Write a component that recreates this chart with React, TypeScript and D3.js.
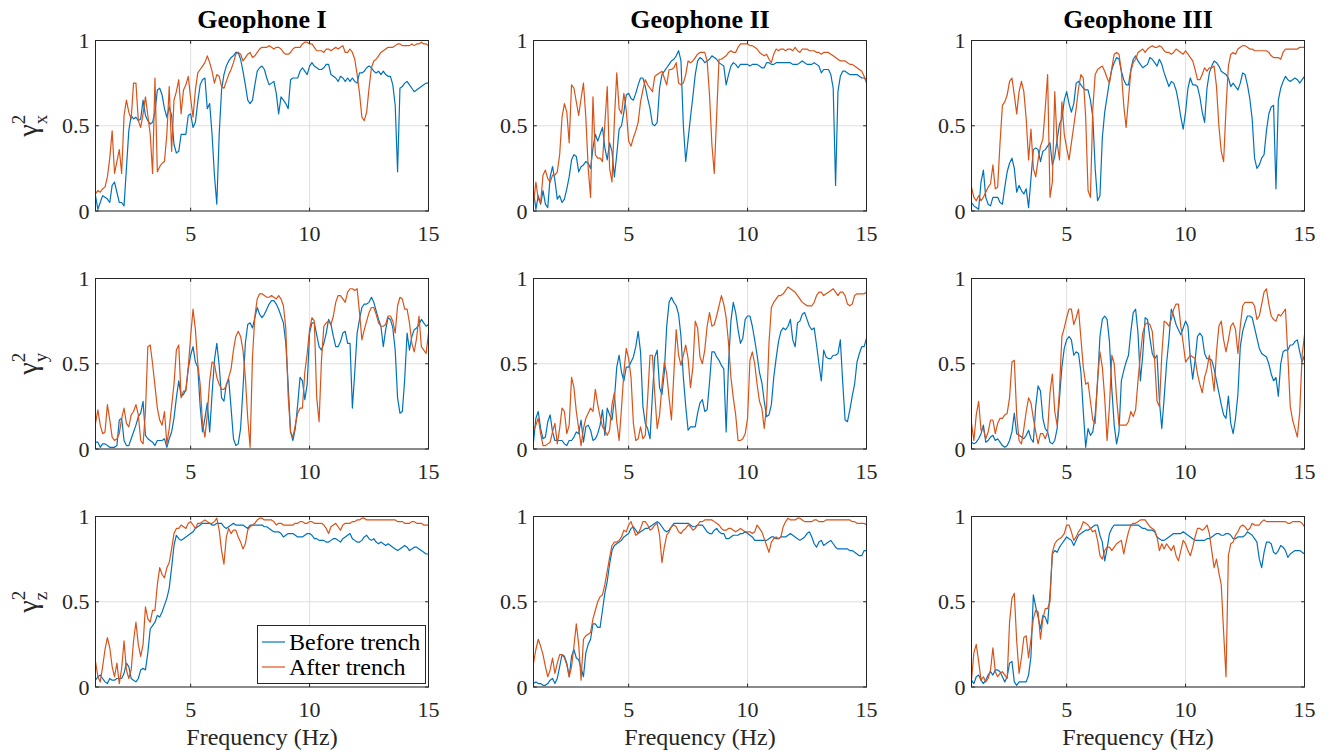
import React from "react";
import * as d3 from "d3";

// Frequency grid: 1 Hz to 15 Hz in 0.1 Hz steps (141 samples per curve)
const FREQ_START = 1;
const FREQ_STEP = 0.1;

const geophones = ["Geophone I", "Geophone II", "Geophone III"];
const components = ["x", "y", "z"];
const seriesNames = ["Before trench", "After trench"];
const xTicks = [5, 10, 15];
const yTicks = [0, 0.5, 1];
const yTickLabels = ["0", "0.5", "1"];

// ---- Coherence, x component ----
const xBeforeI = [
  0.09,0.01,0.05,0.09,0.08,0.07,0.05,0.15,0.17,0.11,
  0.05,0.05,0.03,0.25,0.47,0.56,0.54,0.55,0.53,0.54,
  0.65,0.56,0.53,0.51,0.52,0.58,0.71,0.72,0.68,0.60,
  0.55,0.61,0.56,0.39,0.34,0.35,0.45,0.45,0.45,0.56,
  0.57,0.49,0.52,0.64,0.74,0.77,0.78,0.60,0.63,0.45,
  0.21,0.04,0.45,0.71,0.80,0.85,0.88,0.90,0.91,0.93,
  0.93,0.89,0.82,0.74,0.65,0.63,0.65,0.74,0.82,0.84,
  0.85,0.83,0.78,0.74,0.75,0.76,0.69,0.57,0.67,0.65,
  0.63,0.60,0.77,0.78,0.78,0.78,0.82,0.84,0.82,0.80,
  0.85,0.87,0.85,0.84,0.83,0.83,0.84,0.86,0.86,0.80,
  0.79,0.78,0.76,0.79,0.78,0.76,0.78,0.76,0.78,0.76,
  0.75,0.81,0.81,0.82,0.84,0.85,0.84,0.82,0.81,0.82,
  0.80,0.82,0.80,0.79,0.79,0.74,0.62,0.23,0.72,0.73,
  0.75,0.76,0.74,0.72,0.70,0.71,0.72,0.73,0.74,0.75,
  0.75,
];
const xAfterI = [
  0.10,0.12,0.11,0.13,0.14,0.20,0.31,0.47,0.22,0.29,
  0.36,0.22,0.56,0.65,0.58,0.54,0.75,0.75,0.53,0.49,
  0.57,0.67,0.56,0.45,0.22,0.78,0.23,0.26,0.28,0.29,
  0.45,0.73,0.35,0.65,0.70,0.77,0.57,0.71,0.74,0.79,
  0.66,0.55,0.71,0.81,0.83,0.85,0.87,0.91,0.87,0.82,
  0.75,0.80,0.79,0.73,0.72,0.76,0.80,0.83,0.87,0.92,
  0.93,0.92,0.88,0.90,0.92,0.93,0.90,0.91,0.93,0.95,
  0.96,0.96,0.96,0.97,0.96,0.95,0.96,0.96,0.95,0.93,
  0.92,0.92,0.93,0.95,0.96,0.96,0.96,0.98,0.99,0.99,
  0.98,0.98,0.96,0.94,0.94,0.94,0.93,0.95,0.95,0.94,
  0.95,0.96,0.95,0.96,0.97,0.93,0.93,0.95,0.93,0.89,
  0.80,0.69,0.55,0.53,0.58,0.72,0.84,0.88,0.89,0.91,
  0.93,0.94,0.95,0.96,0.96,0.96,0.97,0.98,0.98,0.97,
  0.97,0.97,0.97,0.98,0.97,0.98,0.98,0.99,0.98,0.98,
  0.97,
];
const xBeforeII = [
  0.12,0.01,0.09,0.04,0.12,0.04,0.02,0.20,0.26,0.18,
  0.07,0.09,0.05,0.07,0.13,0.20,0.30,0.33,0.32,0.23,
  0.26,0.27,0.29,0.28,0.25,0.37,0.45,0.41,0.45,0.49,
  0.37,0.30,0.40,0.35,0.20,0.33,0.48,0.50,0.58,0.68,
  0.69,0.66,0.65,0.69,0.74,0.78,0.78,0.73,0.66,0.60,
  0.51,0.50,0.52,0.72,0.80,0.82,0.84,0.86,0.88,0.89,
  0.91,0.94,0.88,0.50,0.29,0.42,0.55,0.67,0.80,0.88,
  0.90,0.89,0.87,0.88,0.89,0.91,0.90,0.89,0.87,0.86,
  0.85,0.74,0.80,0.85,0.87,0.86,0.84,0.86,0.86,0.86,
  0.86,0.85,0.86,0.86,0.86,0.85,0.84,0.84,0.87,0.87,
  0.86,0.86,0.87,0.87,0.87,0.87,0.87,0.87,0.87,0.86,
  0.86,0.86,0.87,0.88,0.87,0.86,0.86,0.86,0.87,0.86,
  0.85,0.81,0.83,0.83,0.83,0.80,0.72,0.15,0.70,0.79,
  0.82,0.82,0.81,0.80,0.80,0.80,0.80,0.79,0.78,0.78,
  0.77,
];
const xAfterII = [
  0.04,0.17,0.07,0.05,0.21,0.24,0.19,0.17,0.21,0.21,
  0.23,0.33,0.55,0.63,0.58,0.40,0.74,0.72,0.64,0.56,
  0.66,0.75,0.55,0.25,0.08,0.67,0.33,0.31,0.31,0.29,
  0.51,0.73,0.25,0.17,0.53,0.81,0.60,0.57,0.69,0.59,
  0.41,0.38,0.43,0.47,0.52,0.64,0.71,0.77,0.74,0.72,
  0.70,0.79,0.80,0.81,0.82,0.78,0.74,0.83,0.83,0.84,
  0.87,0.75,0.74,0.75,0.80,0.88,0.87,0.88,0.90,0.92,
  0.93,0.93,0.93,0.88,0.68,0.39,0.22,0.56,0.89,0.89,
  0.90,0.91,0.93,0.94,0.93,0.93,0.96,0.98,0.98,0.98,
  0.98,0.97,0.97,0.96,0.95,0.93,0.92,0.91,0.92,0.89,
  0.87,0.92,0.95,0.94,0.95,0.95,0.94,0.95,0.95,0.94,
  0.96,0.94,0.93,0.95,0.95,0.95,0.94,0.94,0.94,0.93,
  0.93,0.92,0.93,0.93,0.93,0.92,0.91,0.90,0.89,0.88,
  0.88,0.88,0.87,0.86,0.86,0.85,0.84,0.83,0.82,0.79,
  0.75,
];
const xBeforeIII = [
  0.05,0.03,0.02,0.01,0.17,0.24,0.08,0.04,0.03,0.08,
  0.08,0.08,0.05,0.04,0.14,0.23,0.28,0.31,0.25,0.11,
  0.15,0.12,0.10,0.13,0.02,0.19,0.36,0.37,0.36,0.29,
  0.35,0.36,0.38,0.40,0.27,0.32,0.42,0.51,0.54,0.65,
  0.70,0.63,0.58,0.63,0.75,0.76,0.74,0.72,0.71,0.71,
  0.65,0.55,0.25,0.06,0.09,0.43,0.58,0.67,0.76,0.83,
  0.87,0.90,0.89,0.82,0.77,0.74,0.74,0.83,0.89,0.91,
  0.88,0.86,0.84,0.85,0.86,0.90,0.89,0.87,0.85,0.89,
  0.86,0.81,0.77,0.73,0.76,0.75,0.71,0.64,0.55,0.48,
  0.58,0.72,0.78,0.74,0.74,0.73,0.67,0.58,0.52,0.72,
  0.81,0.85,0.88,0.87,0.85,0.82,0.81,0.80,0.78,0.73,
  0.75,0.73,0.71,0.75,0.81,0.80,0.74,0.66,0.54,0.31,
  0.25,0.27,0.31,0.33,0.47,0.57,0.61,0.62,0.13,0.65,
  0.72,0.76,0.79,0.77,0.76,0.77,0.78,0.77,0.75,0.77,
  0.79,
];
const xAfterIII = [
  0.14,0.08,0.06,0.09,0.06,0.08,0.11,0.14,0.16,0.27,
  0.13,0.14,0.40,0.62,0.64,0.68,0.76,0.78,0.68,0.57,
  0.70,0.76,0.70,0.54,0.30,0.48,0.25,0.20,0.30,0.38,
  0.42,0.60,0.80,0.08,0.17,0.70,0.40,0.30,0.64,0.45,
  0.37,0.30,0.40,0.50,0.60,0.72,0.80,0.78,0.55,0.12,
  0.08,0.60,0.80,0.83,0.84,0.85,0.82,0.78,0.75,0.84,
  0.92,0.93,0.92,0.82,0.62,0.49,0.66,0.82,0.87,0.89,
  0.93,0.94,0.95,0.93,0.95,0.96,0.97,0.96,0.96,0.97,
  0.96,0.94,0.93,0.93,0.92,0.93,0.95,0.94,0.93,0.92,
  0.94,0.92,0.90,0.88,0.83,0.77,0.77,0.80,0.84,0.82,
  0.84,0.84,0.85,0.73,0.50,0.35,0.29,0.60,0.85,0.92,
  0.93,0.92,0.95,0.96,0.97,0.97,0.96,0.95,0.95,0.94,
  0.94,0.94,0.94,0.94,0.94,0.93,0.91,0.90,0.90,0.90,
  0.89,0.93,0.95,0.95,0.95,0.95,0.95,0.95,0.96,0.96,
  0.96,
];

// ---- Coherence, y component ----
const yBeforeI = [
  0.04,0.04,0.01,0.03,0.03,0.02,0.01,0.01,0.01,0.02,
  0.17,0.18,0.05,0.02,0.02,0.06,0.10,0.14,0.19,0.21,
  0.28,0.08,0.06,0.05,0.04,0.02,0.05,0.05,0.05,0.06,
  0.01,0.06,0.10,0.18,0.30,0.40,0.31,0.32,0.35,0.47,
  0.55,0.60,0.51,0.48,0.25,0.10,0.18,0.27,0.10,0.32,
  0.52,0.62,0.49,0.30,0.28,0.38,0.41,0.24,0.06,0.02,
  0.03,0.12,0.35,0.62,0.73,0.74,0.71,0.77,0.83,0.79,
  0.77,0.79,0.82,0.85,0.87,0.87,0.85,0.82,0.78,0.74,
  0.62,0.38,0.10,0.05,0.12,0.26,0.42,0.40,0.29,0.38,
  0.68,0.74,0.74,0.67,0.60,0.58,0.62,0.68,0.76,0.73,
  0.66,0.60,0.60,0.63,0.68,0.69,0.62,0.62,0.24,0.45,
  0.68,0.76,0.83,0.85,0.85,0.86,0.89,0.86,0.81,0.76,
  0.72,0.60,0.70,0.77,0.76,0.71,0.58,0.30,0.21,0.22,
  0.41,0.68,0.58,0.66,0.70,0.71,0.73,0.76,0.74,0.72,
  0.73,
];
const yAfterI = [
  0.15,0.23,0.14,0.09,0.10,0.26,0.17,0.07,0.05,0.06,
  0.09,0.18,0.24,0.15,0.13,0.20,0.22,0.26,0.20,0.05,
  0.03,0.22,0.60,0.61,0.50,0.37,0.24,0.17,0.14,0.22,
  0.03,0.12,0.25,0.38,0.58,0.61,0.30,0.34,0.34,0.48,
  0.66,0.82,0.70,0.50,0.38,0.15,0.07,0.20,0.40,0.51,
  0.50,0.42,0.38,0.35,0.35,0.37,0.42,0.47,0.58,0.66,
  0.69,0.66,0.58,0.42,0.18,0.01,0.54,0.78,0.88,0.91,
  0.91,0.90,0.89,0.89,0.90,0.89,0.88,0.90,0.88,0.84,
  0.71,0.31,0.10,0.07,0.14,0.21,0.24,0.24,0.45,0.56,
  0.70,0.77,0.75,0.30,0.16,0.52,0.72,0.74,0.75,0.73,
  0.78,0.86,0.90,0.90,0.88,0.86,0.92,0.94,0.94,0.93,
  0.94,0.80,0.64,0.70,0.75,0.80,0.83,0.83,0.79,0.74,
  0.72,0.72,0.73,0.78,0.78,0.75,0.68,0.84,0.89,0.88,
  0.82,0.82,0.74,0.62,0.57,0.65,0.78,0.60,0.58,0.56,
  0.68,
];
const yBeforeII = [
  0.04,0.18,0.22,0.12,0.06,0.07,0.16,0.20,0.10,0.05,
  0.05,0.05,0.05,0.03,0.02,0.05,0.05,0.07,0.10,0.09,
  0.17,0.04,0.13,0.14,0.11,0.05,0.06,0.09,0.14,0.23,
  0.08,0.24,0.20,0.17,0.29,0.48,0.55,0.45,0.40,0.48,
  0.48,0.51,0.54,0.60,0.69,0.57,0.25,0.15,0.12,0.06,
  0.32,0.54,0.58,0.36,0.32,0.45,0.72,0.86,0.89,0.86,
  0.84,0.79,0.66,0.42,0.25,0.11,0.13,0.13,0.13,0.21,
  0.27,0.29,0.22,0.23,0.39,0.57,0.57,0.54,0.52,0.49,
  0.47,0.10,0.50,0.75,0.86,0.80,0.70,0.62,0.65,0.76,
  0.78,0.78,0.72,0.64,0.55,0.45,0.39,0.28,0.19,0.20,
  0.26,0.42,0.53,0.63,0.69,0.71,0.70,0.72,0.76,0.64,
  0.60,0.74,0.75,0.79,0.80,0.76,0.72,0.70,0.71,0.61,
  0.50,0.40,0.58,0.54,0.53,0.53,0.55,0.55,0.56,0.64,
  0.39,0.17,0.16,0.23,0.31,0.38,0.51,0.56,0.60,0.60,
  0.65,
];
const yAfterII = [
  0.11,0.14,0.18,0.09,0.02,0.02,0.03,0.04,0.10,0.15,
  0.03,0.12,0.24,0.22,0.09,0.14,0.42,0.36,0.22,0.12,
  0.02,0.12,0.18,0.21,0.24,0.22,0.35,0.26,0.19,0.13,
  0.11,0.08,0.11,0.26,0.33,0.16,0.05,0.24,0.45,0.59,
  0.53,0.42,0.15,0.05,0.06,0.13,0.06,0.08,0.30,0.55,
  0.55,0.32,0.12,0.20,0.37,0.51,0.44,0.30,0.17,0.44,
  0.70,0.55,0.49,0.55,0.61,0.53,0.36,0.48,0.75,0.71,
  0.54,0.50,0.58,0.72,0.80,0.72,0.73,0.78,0.84,0.90,
  0.85,0.77,0.62,0.42,0.30,0.20,0.05,0.05,0.06,0.09,
  0.18,0.52,0.57,0.50,0.38,0.28,0.24,0.12,0.25,0.62,
  0.83,0.86,0.88,0.90,0.90,0.91,0.93,0.95,0.94,0.93,
  0.92,0.90,0.88,0.86,0.85,0.84,0.84,0.84,0.86,0.90,
  0.92,0.92,0.90,0.91,0.92,0.93,0.94,0.92,0.90,0.92,
  0.92,0.90,0.85,0.84,0.85,0.90,0.91,0.91,0.91,0.91,
  0.92,
];
const yBeforeIII = [
  0.04,0.03,0.04,0.06,0.09,0.14,0.04,0.05,0.07,0.08,
  0.05,0.06,0.04,0.02,0.01,0.02,0.05,0.10,0.21,0.09,
  0.08,0.07,0.06,0.08,0.11,0.06,0.04,0.25,0.37,0.34,
  0.18,0.12,0.10,0.04,0.03,0.05,0.12,0.30,0.48,0.59,
  0.64,0.66,0.64,0.55,0.57,0.56,0.45,0.22,0.01,0.12,
  0.08,0.10,0.20,0.39,0.66,0.76,0.78,0.76,0.63,0.35,
  0.14,0.03,0.10,0.40,0.46,0.51,0.55,0.69,0.80,0.82,
  0.68,0.40,0.55,0.77,0.76,0.65,0.56,0.53,0.55,0.28,
  0.12,0.30,0.50,0.64,0.82,0.78,0.73,0.70,0.67,0.71,
  0.75,0.72,0.53,0.41,0.52,0.66,0.68,0.66,0.56,0.53,
  0.53,0.52,0.47,0.40,0.33,0.26,0.20,0.18,0.31,0.15,
  0.09,0.18,0.32,0.60,0.69,0.74,0.78,0.78,0.77,0.71,
  0.65,0.59,0.56,0.55,0.54,0.50,0.44,0.40,0.42,0.31,
  0.50,0.57,0.58,0.58,0.61,0.61,0.63,0.64,0.57,0.51,
  0.55,
];
const yAfterIII = [
  0.15,0.05,0.20,0.28,0.11,0.12,0.06,0.10,0.17,0.17,
  0.09,0.15,0.18,0.18,0.20,0.21,0.30,0.51,0.52,0.20,
  0.05,0.03,0.12,0.22,0.30,0.27,0.18,0.10,0.03,0.09,
  0.09,0.06,0.10,0.33,0.44,0.22,0.14,0.35,0.66,0.71,
  0.77,0.82,0.82,0.73,0.77,0.82,0.65,0.48,0.38,0.39,
  0.28,0.17,0.15,0.41,0.57,0.48,0.30,0.05,0.25,0.55,
  0.50,0.30,0.14,0.14,0.14,0.14,0.16,0.22,0.19,0.23,
  0.40,0.55,0.68,0.73,0.74,0.73,0.69,0.52,0.28,0.25,
  0.55,0.75,0.74,0.72,0.76,0.82,0.85,0.85,0.72,0.62,
  0.51,0.53,0.55,0.54,0.53,0.44,0.38,0.33,0.42,0.47,
  0.55,0.45,0.34,0.57,0.72,0.75,0.64,0.57,0.64,0.72,
  0.74,0.70,0.56,0.72,0.84,0.86,0.86,0.86,0.86,0.84,
  0.76,0.78,0.85,0.92,0.94,0.85,0.78,0.76,0.75,0.79,
  0.78,0.80,0.82,0.55,0.25,0.17,0.12,0.07,0.22,0.55,
  0.67,
];

// ---- Coherence, z component ----
const zBeforeI = [
  0.04,0.06,0.07,0.05,0.03,0.02,0.05,0.04,0.04,0.05,
  0.05,0.05,0.08,0.14,0.12,0.05,0.04,0.03,0.05,0.10,
  0.11,0.10,0.20,0.34,0.36,0.38,0.42,0.41,0.44,0.48,
  0.52,0.58,0.70,0.83,0.89,0.87,0.86,0.87,0.88,0.89,
  0.90,0.91,0.93,0.94,0.95,0.96,0.96,0.96,0.96,0.95,
  0.95,0.96,0.96,0.96,0.94,0.93,0.94,0.95,0.96,0.95,
  0.95,0.95,0.95,0.94,0.93,0.95,0.95,0.95,0.95,0.95,
  0.95,0.94,0.94,0.93,0.92,0.91,0.91,0.91,0.90,0.88,
  0.89,0.90,0.90,0.90,0.89,0.88,0.88,0.88,0.89,0.90,
  0.90,0.89,0.87,0.87,0.86,0.86,0.86,0.85,0.85,0.86,
  0.87,0.87,0.86,0.85,0.87,0.88,0.89,0.90,0.87,0.86,
  0.85,0.85,0.86,0.88,0.89,0.87,0.86,0.87,0.85,0.84,
  0.85,0.84,0.83,0.84,0.83,0.82,0.81,0.80,0.81,0.82,
  0.83,0.82,0.80,0.81,0.82,0.82,0.81,0.80,0.79,0.78,
  0.78,
];
const zAfterI = [
  0.15,0.06,0.03,0.12,0.22,0.29,0.23,0.12,0.06,0.14,
  0.02,0.11,0.27,0.10,0.05,0.10,0.27,0.38,0.25,0.18,
  0.25,0.47,0.40,0.38,0.45,0.45,0.60,0.70,0.66,0.64,
  0.70,0.73,0.81,0.90,0.93,0.93,0.95,0.94,0.93,0.96,
  0.97,0.95,0.93,0.96,0.96,0.97,0.98,0.97,0.96,0.96,
  0.97,0.99,0.92,0.80,0.72,0.88,0.93,0.90,0.92,0.92,
  0.88,0.85,0.81,0.84,0.92,0.94,0.95,0.96,0.98,0.99,
  0.99,0.98,0.98,0.98,0.98,0.97,0.95,0.96,0.96,0.95,
  0.95,0.95,0.95,0.95,0.96,0.96,0.97,0.97,0.96,0.96,
  0.97,0.97,0.96,0.96,0.96,0.96,0.95,0.93,0.90,0.94,
  0.95,0.96,0.94,0.92,0.95,0.96,0.96,0.96,0.97,0.97,
  0.98,0.98,0.99,0.99,0.98,0.98,0.98,0.98,0.98,0.98,
  0.98,0.98,0.98,0.98,0.98,0.98,0.98,0.97,0.97,0.97,
  0.96,0.96,0.96,0.97,0.97,0.96,0.96,0.96,0.95,0.95,
  0.95,
];
const zBeforeII = [
  0.02,0.03,0.02,0.02,0.01,0.01,0.02,0.04,0.05,0.02,
  0.05,0.12,0.19,0.18,0.14,0.06,0.18,0.22,0.17,0.16,
  0.11,0.06,0.20,0.25,0.28,0.37,0.37,0.35,0.35,0.45,
  0.55,0.62,0.72,0.80,0.83,0.84,0.85,0.86,0.88,0.89,
  0.90,0.93,0.94,0.92,0.90,0.91,0.92,0.93,0.93,0.94,
  0.95,0.96,0.97,0.96,0.94,0.92,0.91,0.92,0.94,0.96,
  0.96,0.96,0.96,0.96,0.96,0.96,0.95,0.94,0.94,0.95,
  0.95,0.95,0.93,0.91,0.90,0.90,0.92,0.93,0.91,0.90,
  0.90,0.87,0.87,0.88,0.89,0.89,0.89,0.90,0.90,0.91,
  0.90,0.89,0.88,0.86,0.86,0.86,0.86,0.86,0.86,0.87,
  0.88,0.88,0.87,0.87,0.88,0.88,0.88,0.89,0.90,0.89,
  0.88,0.87,0.86,0.87,0.88,0.90,0.91,0.88,0.84,0.82,
  0.85,0.86,0.83,0.84,0.85,0.86,0.84,0.82,0.81,0.81,
  0.81,0.81,0.81,0.80,0.80,0.79,0.78,0.77,0.77,0.80,
  0.80,
];
const zAfterII = [
  0.14,0.22,0.28,0.24,0.19,0.12,0.06,0.10,0.17,0.08,
  0.14,0.19,0.19,0.17,0.13,0.06,0.12,0.24,0.37,0.25,
  0.04,0.28,0.30,0.31,0.32,0.40,0.45,0.50,0.53,0.54,
  0.60,0.68,0.76,0.83,0.85,0.85,0.86,0.88,0.92,0.91,
  0.95,0.97,0.93,0.89,0.90,0.93,0.97,0.97,0.95,0.92,
  0.93,0.95,0.96,0.89,0.73,0.82,0.89,0.91,0.94,0.95,
  0.94,0.91,0.90,0.92,0.93,0.95,0.94,0.92,0.93,0.95,
  0.97,0.97,0.98,0.98,0.98,0.98,0.97,0.96,0.95,0.93,
  0.92,0.92,0.93,0.93,0.92,0.91,0.92,0.93,0.92,0.91,
  0.91,0.91,0.90,0.91,0.95,0.93,0.91,0.87,0.83,0.79,
  0.85,0.87,0.88,0.87,0.88,0.94,0.97,0.99,0.98,0.98,
  0.98,0.99,0.99,0.98,0.97,0.97,0.97,0.97,0.98,0.98,
  0.97,0.97,0.97,0.98,0.98,0.98,0.98,0.98,0.98,0.98,
  0.98,0.98,0.98,0.98,0.97,0.97,0.96,0.96,0.96,0.96,
  0.95,
];
const zBeforeIII = [
  0.04,0.02,0.06,0.07,0.04,0.02,0.04,0.07,0.09,0.07,
  0.10,0.10,0.09,0.06,0.03,0.06,0.14,0.15,0.03,0.01,
  0.03,0.03,0.03,0.03,0.07,0.18,0.54,0.47,0.41,0.34,
  0.42,0.41,0.37,0.55,0.78,0.80,0.79,0.82,0.84,0.86,
  0.88,0.87,0.86,0.83,0.86,0.89,0.90,0.91,0.92,0.92,
  0.93,0.94,0.95,0.95,0.89,0.85,0.74,0.81,0.90,0.93,
  0.95,0.95,0.95,0.95,0.95,0.95,0.95,0.95,0.95,0.95,
  0.95,0.94,0.93,0.93,0.92,0.92,0.92,0.91,0.88,0.87,
  0.86,0.86,0.87,0.88,0.89,0.90,0.90,0.90,0.90,0.91,
  0.90,0.89,0.88,0.87,0.86,0.86,0.86,0.86,0.86,0.87,
  0.87,0.88,0.89,0.90,0.90,0.89,0.89,0.90,0.90,0.89,
  0.87,0.87,0.88,0.88,0.88,0.89,0.91,0.90,0.89,0.87,
  0.85,0.75,0.70,0.79,0.85,0.85,0.84,0.79,0.78,0.80,
  0.83,0.82,0.80,0.76,0.78,0.79,0.80,0.80,0.80,0.79,
  0.78,
];
const zAfterIII = [
  0.04,0.20,0.25,0.15,0.04,0.06,0.03,0.05,0.10,0.23,
  0.09,0.06,0.08,0.09,0.07,0.05,0.38,0.52,0.55,0.27,
  0.08,0.17,0.29,0.30,0.17,0.28,0.40,0.45,0.44,0.28,
  0.40,0.46,0.46,0.50,0.79,0.84,0.86,0.87,0.88,0.90,
  0.95,0.95,0.91,0.86,0.88,0.91,0.93,0.97,0.96,0.95,
  0.93,0.91,0.92,0.86,0.77,0.75,0.80,0.82,0.82,0.80,
  0.82,0.84,0.85,0.86,0.78,0.85,0.91,0.95,0.96,0.96,
  0.97,0.98,0.98,0.98,0.96,0.94,0.93,0.92,0.88,0.80,
  0.84,0.81,0.84,0.82,0.80,0.83,0.77,0.74,0.80,0.86,
  0.84,0.80,0.77,0.82,0.88,0.93,0.93,0.92,0.93,0.95,
  0.90,0.80,0.70,0.75,0.67,0.60,0.32,0.06,0.77,0.84,
  0.85,0.89,0.91,0.94,0.95,0.94,0.92,0.93,0.96,0.95,
  0.95,0.95,0.97,0.98,0.97,0.97,0.97,0.97,0.97,0.97,
  0.97,0.97,0.97,0.96,0.96,0.97,0.97,0.97,0.97,0.96,
  0.94,
];

// rows = components (x, y, z), columns = geophones (I, II, III)
const panelData = [
  [[xBeforeI, xAfterI], [xBeforeII, xAfterII], [xBeforeIII, xAfterIII]],
  [[yBeforeI, yAfterI], [yBeforeII, yAfterII], [yBeforeIII, yAfterIII]],
  [[zBeforeI, zAfterI], [zBeforeII, zAfterII], [zBeforeIII, zAfterIII]],
];

const WIDTH = 1330;
const HEIGHT = 753;
const COL_LEFT = [95.5, 533.5, 971.5];
const ROW_TOP = [40.5, 278.5, 516.5];
const PANEL_W = 333;
const PANEL_H = 170.5;
const COLORS = ["#0072BD", "#D95319"];
const AXIS_COLOR = "#262626";
const GRID_COLOR = "#dfdfdf";
const FONT = "'Liberation Serif', 'Times New Roman', Times, serif";

function Panel({ row, col }: { row: number; col: number }) {
  const left = COL_LEFT[col];
  const top = ROW_TOP[row];
  const x = d3.scaleLinear().domain([1, 15]).range([left, left + PANEL_W]);
  const y = d3.scaleLinear().domain([0, 1]).range([top + PANEL_H, top]);
  const line = d3
    .line<number>()
    .x((_, i) => x(FREQ_START + i * FREQ_STEP))
    .y((d) => y(d));
  const clipId = `clip-${row}-${col}`;
  const tickLen = 3.3;
  const bottom = top + PANEL_H;
  const right = left + PANEL_W;

  return (
    <g>
      <defs>
        <clipPath id={clipId}>
          <rect x={left} y={top} width={PANEL_W} height={PANEL_H} />
        </clipPath>
      </defs>
      <rect x={left} y={top} width={PANEL_W} height={PANEL_H} fill="#fff" />
      {/* grid */}
      {xTicks.map((t) => (
        <line key={`gx${t}`} x1={x(t)} x2={x(t)} y1={top} y2={bottom} stroke={GRID_COLOR} strokeWidth={1} />
      ))}
      {yTicks.map((t) => (
        <line key={`gy${t}`} x1={left} x2={right} y1={y(t)} y2={y(t)} stroke={GRID_COLOR} strokeWidth={1} />
      ))}
      {/* curves */}
      <g clipPath={`url(#${clipId})`}>
        {panelData[row][col].map((vals, s) => (
          <path key={s} d={line(vals) || ""} fill="none" stroke={COLORS[s]} strokeWidth={1.2} strokeLinejoin="round" />
        ))}
      </g>
      {/* box */}
      <rect x={left} y={top} width={PANEL_W} height={PANEL_H} fill="none" stroke={AXIS_COLOR} strokeWidth={1} />
      {/* ticks */}
      {xTicks.map((t) => (
        <g key={`tx${t}`}>
          <line x1={x(t)} x2={x(t)} y1={bottom} y2={bottom - tickLen} stroke={AXIS_COLOR} strokeWidth={1} />
          <line x1={x(t)} x2={x(t)} y1={top} y2={top + tickLen} stroke={AXIS_COLOR} strokeWidth={1} />
          <text x={x(t)} y={bottom + 30} textAnchor="middle" fontSize={22} fontFamily={FONT} fill={AXIS_COLOR}>
            {t}
          </text>
        </g>
      ))}
      {yTicks.map((t, k) => (
        <g key={`ty${t}`}>
          <line x1={left} x2={left + tickLen} y1={y(t)} y2={y(t)} stroke={AXIS_COLOR} strokeWidth={1} />
          <line x1={right} x2={right - tickLen} y1={y(t)} y2={y(t)} stroke={AXIS_COLOR} strokeWidth={1} />
          <text x={left - 6} y={y(t) + 7.5} textAnchor="end" fontSize={22} fontFamily={FONT} fill={AXIS_COLOR}>
            {yTickLabels[k]}
          </text>
        </g>
      ))}
      {row === 0 && (
        <text x={(left + right) / 2} y={28} textAnchor="middle" fontSize={26} fontWeight="bold" fontFamily={FONT} fill="#000">
          {geophones[col]}
        </text>
      )}
      {row === 2 && (
        <text x={(left + right) / 2} y={745} textAnchor="middle" fontSize={24} fontFamily={FONT} fill={AXIS_COLOR}>
          Frequency (Hz)
        </text>
      )}
      {col === 0 && (
        <text
          transform={`translate(37, ${(top + bottom) / 2}) rotate(-90)`}
          textAnchor="middle"
          fontSize={28}
          fontFamily={FONT}
          fill={AXIS_COLOR}
        >
          γ
          <tspan fontSize={19} dy={-12}>2</tspan>
          <tspan fontSize={19} dx={-9.5} dy={22}>{components[row]}</tspan>
        </text>
      )}
      {row === 2 && col === 0 && (
        <g>
          <rect x={257.5} y={625.5} width={168} height={58} fill="#fff" stroke={AXIS_COLOR} strokeWidth={1} />
          {seriesNames.map((name, s) => (
            <g key={name}>
              <line x1={262} x2={285} y1={642 + s * 25} y2={642 + s * 25} stroke={COLORS[s]} strokeWidth={1.2} />
              <text x={289} y={650 + s * 25} fontSize={24} fontFamily={FONT} fill="#000">
                {name}
              </text>
            </g>
          ))}
        </g>
      )}
    </g>
  );
}

export default function App() {
  const cells: Array<[number, number]> = [];
  for (let r = 0; r < 3; r++) for (let c = 0; c < 3; c++) cells.push([r, c]);
  return (
    <svg
      width={WIDTH}
      height={HEIGHT}
      viewBox={`0 0 ${WIDTH} ${HEIGHT}`}
      style={{ position: "absolute", left: 0, top: 0, background: "#fff" }}
    >
      <rect width={WIDTH} height={HEIGHT} fill="#fff" />
      {cells.map(([r, c]) => (
        <Panel key={`${r}-${c}`} row={r} col={c} />
      ))}
    </svg>
  );
}
